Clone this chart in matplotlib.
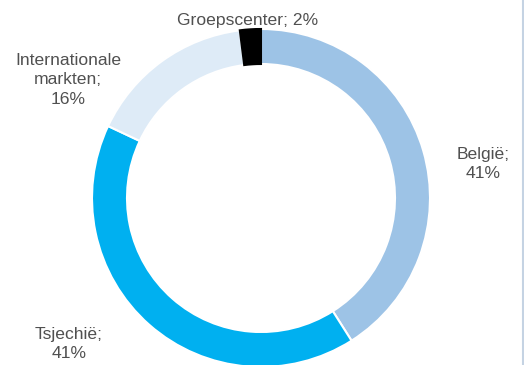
import matplotlib.pyplot as plt

# donut chart values
categories = ['België', 'Tsjechië', 'Internationale\nmarkten', 'Groepscenter']
shares = [41, 41, 16, 2]
colors = ['#9DC3E6', '#00B0F0', '#DEEBF7', '#000000']

plt.rcParams['font.family'] = ['Liberation Sans', 'DejaVu Sans']

W, H = 524, 365
fig = plt.figure(figsize=(W / 100, H / 100), dpi=100)
ax = fig.add_axes([0, 0, 1, 1])

cx, cy, r = 261, H - 198, 169
wedges, _ = ax.pie(shares, colors=colors, startangle=90, counterclock=False,
                   center=(cx, cy), radius=r, frame=True,
                   wedgeprops=dict(width=35, edgecolor='white', linewidth=1.5))
wedges[3].set_edgecolor('#000000')
ax.set_xlim(0, W)
ax.set_ylim(0, H)
ax.axis('off')

# label positions in pixel coords (from top)
label_pos = [(483, 164), (69, 344), (68, 80), (248, 21)]
for cat, val, (lx, ly) in zip(categories, shares, label_pos):
    if cat == 'Groepscenter':
        txt = f'{cat}; {val}%'
    else:
        txt = f'{cat};\n{val}%'
    ax.text(lx, H - ly, txt, ha='center', va='center', fontsize=12.6,
            color='#505050', linespacing=1.38)

# thin border at right edge
ax.plot([W - 1.2, W - 1.2], [0, H], color='#C5D3E3', lw=1.5)

fig.savefig('out.png', dpi=100)
